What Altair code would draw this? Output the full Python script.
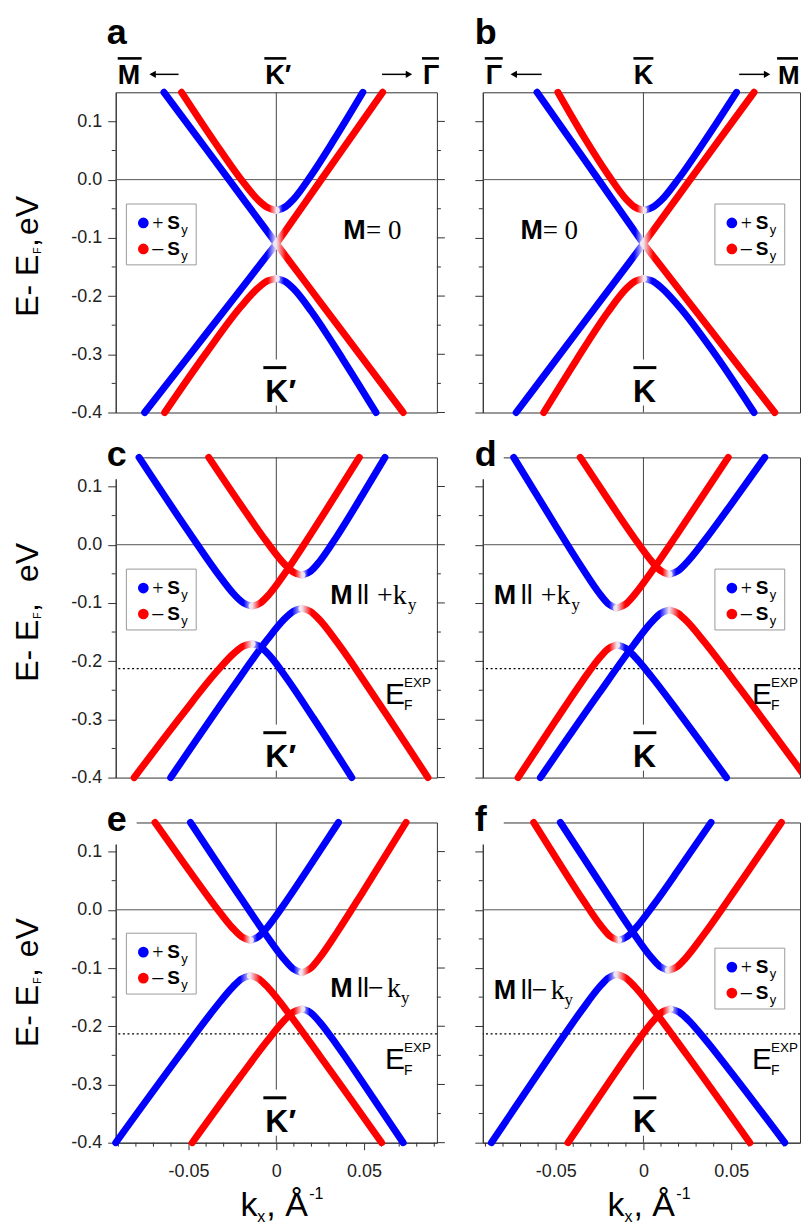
import altair as alt
import pandas as pd

SANS = "Liberation Sans"
SERIF = "Liberation Serif"
BLUE = "#0000ff"
RED = "#ff0000"
FADE = "#efe6f0"

# ---------------- axes / reference values ----------------
X_DOMAIN_LEFT = [-0.0915, 0.0915]
X_DOMAIN_RIGHT = [-0.0915, 0.08918]   # right column is cut by the picture edge
Y_DOMAIN = [-0.40, 0.15]
Y_MAJOR = [-0.4, -0.3, -0.2, -0.1, 0.0, 0.1]
Y_MINOR = [-0.35, -0.25, -0.15, -0.05, 0.05]
X_MAJOR = [-0.05, 0.0, 0.05]
X_MINOR = [-0.09, -0.08, -0.07, -0.06, -0.04, -0.03, -0.02, -0.01,
           0.01, 0.02, 0.03, 0.04, 0.06, 0.07, 0.08, 0.09]
EF_EXP = [-0.213]
KLINE_K = [0.0, 0.0]
KLINE_E1 = [0.15, -0.388]
KLINE_E2 = [-0.309, -0.40]

# ---------------- band arms: (spin, k from apex outwards, E) ----------------
ARMS_A = [
    ("blue", [0.0, -0.0075, -0.027, -0.045, -0.064], [-0.110, -0.0795, 0.000, 0.073, 0.150]),
    ("red", [0.0, 0.007, 0.0256, 0.043, 0.0606], [-0.110, -0.080, 0.000, 0.0745, 0.150]),
    ("red", [0.0, -0.005, -0.010, -0.020, -0.035, -0.054], [-0.053, -0.048, -0.036, 0.000, 0.064, 0.150]),
    ("blue", [0.0, 0.005, 0.010, 0.020, 0.033, 0.0493], [-0.053, -0.047, -0.033, 0.008, 0.069, 0.150]),
    ("blue", [0.0, -0.008, -0.025, -0.050, -0.075], [-0.110, -0.141, -0.207, -0.3035, -0.400]),
    ("red", [0.0, 0.008, 0.025, 0.050, 0.0723], [-0.110, -0.142, -0.2103, -0.3105, -0.400]),
    ("red", [0.0, -0.005, -0.010, -0.020, -0.040, -0.0636], [-0.170, -0.174, -0.185, -0.2175, -0.298, -0.400]),
    ("blue", [0.0, 0.005, 0.010, 0.020, 0.038, 0.0568], [-0.170, -0.175, -0.188, -0.2265, -0.309, -0.400]),
]
ARMS_B = [
    ("blue", [0.0, -0.007, -0.0256, -0.043, -0.0606], [-0.110, -0.080, 0.000, 0.0745, 0.150]),
    ("red", [0.0, 0.0073, 0.0266, 0.045, 0.063], [-0.110, -0.080, 0.000, 0.076, 0.150]),
    ("red", [0.0, -0.005, -0.010, -0.020, -0.033, -0.0487], [-0.053, -0.047, -0.033, 0.008, 0.069, 0.150]),
    ("blue", [0.0, 0.005, 0.010, 0.020, 0.035, 0.053], [-0.053, -0.048, -0.036, 0.0015, 0.067, 0.150]),
    ("blue", [0.0, -0.008, -0.025, -0.050, -0.0725], [-0.110, -0.142, -0.210, -0.310, -0.400]),
    ("red", [0.0, 0.008, 0.025, 0.050, 0.0748], [-0.110, -0.141, -0.207, -0.304, -0.400]),
    ("red", [0.0, -0.005, -0.010, -0.020, -0.038, -0.0568], [-0.170, -0.175, -0.188, -0.2265, -0.309, -0.400]),
    ("blue", [0.0, 0.005, 0.010, 0.020, 0.040, 0.063], [-0.170, -0.174, -0.185, -0.217, -0.2965, -0.400]),
]
ARMS_C = [
    ("blue", [-0.0138, -0.0188, -0.0238, -0.0338, -0.0488, -0.0782], [-0.1055, -0.0999, -0.0861, -0.0478, 0.0171, 0.150]),
    ("red", [-0.0138, -0.0088, -0.0038, 0.0062, 0.0212, 0.0473], [-0.1055, -0.0993, -0.0842, -0.0433, 0.0256, 0.150]),
    ("red", [0.0146, 0.0096, 0.0046, -0.0054, -0.0204, -0.0385], [-0.0523, -0.0468, -0.0331, 0.0048, 0.0692, 0.150]),
    ("blue", [0.0146, 0.0196, 0.0246, 0.0346, 0.0496, 0.0619], [-0.0523, -0.0455, -0.029, 0.0149, 0.0881, 0.150]),
    ("red", [-0.0138, -0.0188, -0.0238, -0.0338, -0.0538, -0.081], [-0.170, -0.1743, -0.1855, -0.2174, -0.2926, -0.400]),
    ("blue", [-0.0138, -0.0088, -0.0038, 0.0062, 0.0212, 0.043], [-0.170, -0.1759, -0.1906, -0.2306, -0.2981, -0.400]),
    ("blue", [0.0146, 0.0096, 0.0046, -0.0054, -0.0254, -0.0602], [-0.1094, -0.1146, -0.1277, -0.164, -0.2478, -0.400]),
    ("red", [0.0146, 0.0196, 0.0246, 0.0346, 0.0546, 0.0864], [-0.1094, -0.115, -0.1289, -0.1674, -0.2551, -0.400]),
]
ARMS_D = [
    ("blue", [-0.0152, -0.0202, -0.0252, -0.0352, -0.0502, -0.0739], [-0.109, -0.1011, -0.0832, -0.0386, 0.0335, 0.150]),
    ("red", [-0.0152, -0.0102, -0.0052, 0.0048, 0.0198, 0.0483], [-0.109, -0.1021, -0.0862, -0.0456, 0.0207, 0.150]),
    ("red", [0.0146, 0.0096, 0.0046, -0.0054, -0.0204, -0.036], [-0.051, -0.0441, -0.0282, 0.0125, 0.0789, 0.150]),
    ("blue", [0.0146, 0.0196, 0.0246, 0.0346, 0.0496, 0.0691], [-0.051, -0.045, -0.0307, 0.0065, 0.0679, 0.150]),
    ("red", [-0.0152, -0.0202, -0.0252, -0.0352, -0.0502, -0.0714], [-0.172, -0.179, -0.1951, -0.2361, -0.3031, -0.400]),
    ("blue", [-0.0152, -0.0102, -0.0052, 0.0048, 0.0198, 0.0473], [-0.172, -0.1777, -0.1915, -0.2275, -0.2871, -0.400]),
    ("blue", [0.0146, 0.0096, 0.0046, -0.0054, -0.0254, -0.0587], [-0.112, -0.1183, -0.1331, -0.1714, -0.2557, -0.400]),
    ("red", [0.0146, 0.0196, 0.0246, 0.0346, 0.0546, 0.0925], [-0.112, -0.1176, -0.1311, -0.1666, -0.2456, -0.400]),
]
ARMS_E = [
    ("red", [-0.0148, -0.0198, -0.0248, -0.0348, -0.0498, -0.0691], [-0.0523, -0.0462, -0.0317, 0.006, 0.068, 0.150]),
    ("blue", [-0.0148, -0.0098, -0.0048, 0.0052, 0.0202, 0.0354], [-0.0523, -0.0452, -0.0289, 0.0126, 0.0801, 0.150]),
    ("blue", [0.0146, 0.0096, 0.0046, -0.0054, -0.0204, -0.0489], [-0.108, -0.1012, -0.0854, -0.0449, 0.0211, 0.150]),
    ("red", [0.0146, 0.0196, 0.0246, 0.0346, 0.0496, 0.0739], [-0.108, -0.1003, -0.0827, -0.0388, 0.0322, 0.150]),
    ("blue", [-0.0148, -0.0198, -0.0248, -0.0348, -0.0548, -0.0915], [-0.113, -0.1187, -0.1325, -0.1685, -0.2486, -0.400]),
    ("red", [-0.0148, -0.0098, -0.0048, 0.0052, 0.0252, 0.060], [-0.113, -0.119, -0.1333, -0.1705, -0.2527, -0.400]),
    ("red", [0.0146, 0.0096, 0.0046, -0.0054, -0.0204, -0.0479], [-0.170, -0.1758, -0.1897, -0.2261, -0.2862, -0.400]),
    ("blue", [0.0146, 0.0196, 0.0246, 0.0346, 0.0496, 0.0723], [-0.170, -0.1768, -0.1924, -0.2326, -0.2982, -0.400]),
]
ARMS_F = [
    ("red", [-0.0142, -0.0192, -0.0242, -0.0342, -0.0492, -0.0625], [-0.0523, -0.0447, -0.0274, 0.016, 0.0863, 0.150]),
    ("blue", [-0.0142, -0.0092, -0.0042, 0.0058, 0.0208, 0.0385], [-0.0523, -0.0458, -0.0307, 0.0084, 0.0725, 0.150]),
    ("blue", [0.0142, 0.0092, 0.0042, -0.0058, -0.0208, -0.0473], [-0.104, -0.0969, -0.0807, -0.0394, 0.028, 0.150]),
    ("red", [0.0142, 0.0192, 0.0242, 0.0342, 0.0492, 0.0786], [-0.104, -0.0975, -0.0824, -0.0433, 0.0208, 0.150]),
    ("blue", [-0.0152, -0.0202, -0.0252, -0.0352, -0.0552, -0.0866], [-0.111, -0.1176, -0.1331, -0.1728, -0.2598, -0.400]),
    ("red", [-0.0152, -0.0102, -0.0052, 0.0048, 0.0248, 0.0606], [-0.111, -0.117, -0.1311, -0.1679, -0.2495, -0.400]),
    ("red", [0.0152, 0.0102, 0.0052, -0.0048, -0.0198, -0.043], [-0.170, -0.1766, -0.1921, -0.2318, -0.2968, -0.400]),
    ("blue", [0.0152, 0.0202, 0.0252, 0.0352, 0.0502, 0.0805], [-0.170, -0.1754, -0.1883, -0.2227, -0.2801, -0.400]),
]

PANELS = [("a", ARMS_A), ("b", ARMS_B), ("c", ARMS_C),
          ("d", ARMS_D), ("e", ARMS_E), ("f", ARMS_F)]

# ---------------- layout ----------------
WIDTHS = [322, 318]
H = 321
YS = alt.Scale(domain=Y_DOMAIN, nice=False, zero=False)
ONE = pd.DataFrame({"z": [0]})
FRAME = "#333333"


def txt(x, y, s, size, weight="normal", font=SANS, align="left", angle=0, color="black"):
    return alt.Chart(ONE).mark_text(
        text=s, font=font, fontSize=size, fontWeight=weight, align=align,
        baseline="alphabetic", angle=angle, color=color
    ).encode(x=alt.value(x), y=alt.value(y))


def hseg(x1, x2, y, width=1.0, color="black"):
    return alt.Chart(ONE).mark_rule(color=color, strokeWidth=width).encode(
        x=alt.value(x1), x2=alt.value(x2), y=alt.value(y))


def arrowhead(x, y, direction):
    return alt.Chart(ONE).mark_point(
        shape="triangle-" + direction, filled=True, size=55, color="black", opacity=1
    ).encode(x=alt.value(x), y=alt.value(y))


def box(x1, x2, y1, y2, fill="white", stroke=None, opacity=1):
    kw = dict(fill=fill, opacity=opacity)
    if stroke:
        kw.update(stroke=stroke, strokeWidth=1)
    return alt.Chart(ONE).mark_rect(**kw).encode(
        x=alt.value(x1), x2=alt.value(x2), y=alt.value(y1), y2=alt.value(y2))


def gradient(spin, side):
    c = BLUE if spin == "blue" else RED
    if side == "R":
        stops = [(FADE, 0.0), (c, 0.075), (c, 1.0)]
    else:
        stops = [(c, 0.0), (c, 0.925), (FADE, 1.0)]
    return alt.LinearGradient(
        gradient="linear", x1=0, x2=1, y1=0, y2=0,
        stops=[alt.GradientStop(color=col, offset=o) for col, o in stops])


def arms_frame(arms, kmax):
    rows = []
    for i, (spin, ks, es) in enumerate(arms):
        side = "R" if ks[-1] > ks[0] else "L"
        edge = max(ks) > kmax
        for k, e in zip(ks, es):
            rows.append({"arm": i, "spin": spin, "side": side, "edge": edge, "k": k, "E": e})
    return pd.DataFrame(rows)


def legend(bx, by):
    out = [box(bx, bx + 70, by, by + 61, stroke="#9a9a9a")]
    out.append(alt.Chart(ONE).mark_circle(size=115, color=BLUE, opacity=1).encode(
        x=alt.value(bx + 17), y=alt.value(by + 19)))
    out.append(alt.Chart(ONE).mark_circle(size=115, color=RED, opacity=1).encode(
        x=alt.value(bx + 17), y=alt.value(by + 45)))
    out += [txt(bx + 26, by + 26, "+", 20, font=SERIF),
            txt(bx + 41, by + 25, "S", 19, "bold"),
            txt(bx + 55, by + 30, "y", 13),
            txt(bx + 26, by + 51, "–", 20),
            txt(bx + 41, by + 51, "S", 19, "bold"),
            txt(bx + 55, by + 56, "y", 13)]
    return out


LEGEND_POS = {"a": (10.7, 112), "b": (232.7, 112), "c": (10.7, 112),
              "d": (232.7, 112), "e": (10.7, 111), "f": (232.7, 126)}
EV_POS = {0: 143, 1: 125, 2: 135}


def panel_annotations(name, row, col):
    L = []
    lx = -9 if col == 0 else -8
    ly = -48 if row == 0 else 9
    L.append(txt(lx, ly, name, 36, "bold"))
    if name == "a":
        L += [txt(2, -8, "M", 27, "bold"), hseg(2, 26, -34, 2.6),
              hseg(38, 63, -18, 1.5), arrowhead(37, -18, "left"),
              txt(150, -8, "K′", 27, "bold"), hseg(149, 171, -34, 2.6),
              hseg(267, 293, -18, 1.5), arrowhead(294, -18, "right"),
              txt(308, -8, "Γ", 27, "bold"), hseg(307, 324, -34, 2.6)]
    if name == "b":
        L += [txt(3, -8, "Γ", 27, "bold"), hseg(2, 20, -34, 2.6),
              hseg(32, 59, -18, 1.5), arrowhead(31, -18, "left"),
              txt(161, -8, "K", 27, "bold", align="center"), hseg(151, 171, -34, 2.6),
              hseg(257, 284, -18, 1.5), arrowhead(285, -18, "right"),
              txt(296, -8, "M", 26, "bold"), hseg(295, 316, -34, 2.6)]
    if col == 0:
        L += [txt(150, 310, "K′", 32, "bold"), hseg(148, 171, 276, 3)]
    else:
        L += [txt(162, 310, "K", 32, "bold", align="center"), hseg(151, 174, 276, 3)]
    if name == "a":
        L += [txt(228, 147, "M", 27, "bold"), txt(251, 147, "= 0", 27, font=SERIF)]
    if name == "b":
        L += [txt(37.7, 147, "M", 27, "bold"), txt(60, 147, "= 0", 27, font=SERIF)]
    if name in ("c", "d"):
        mx = 215 if name == "c" else 11
        L += [txt(mx, 147, "M", 27, "bold"), txt(mx + 27, 147, "ll", 27),
              txt(mx + 47, 147, "+k", 28, font=SERIF), txt(mx + 78, 153, "y", 17, font=SERIF)]
    if name in ("e", "f"):
        mx, my = (215, 175) if name == "e" else (11, 177)
        L += [txt(mx, my, "M", 27, "bold"), txt(mx + 27, my, "ll", 27),
              txt(mx + 38, my, "−", 28, font=SERIF), txt(mx + 57, my, "k", 28, font=SERIF),
              txt(mx + 71, my + 6, "y", 17, font=SERIF)]
    if row > 0:
        L += [txt(270, 247, "E", 30), txt(289, 253, "F", 14), txt(289, 230, "EXP", 13.5)]
    if col == 0:
        L += [txt(-78, 225, "E- E", 32, angle=270),
              txt(-75, 162, "F", 11, angle=270),
              txt(-78, 155, ",", 32, angle=270),
              txt(-78, EV_POS[row], "eV", 32, angle=270)]
    if row == 2:
        L += [txt(125, 395, "k", 34), txt(142, 401, "x", 16),
              txt(151, 395, ", Å", 34), txt(194, 377, "-1", 16)]
    return L


def make_panel(name, arms, row, col):
    W = WIDTHS[col]
    xdom = X_DOMAIN_LEFT if col == 0 else X_DOMAIN_RIGHT
    XS = alt.Scale(domain=xdom, nice=False, zero=False)
    df = arms_frame(arms, xdom[1])

    yaxis = alt.Axis(values=Y_MAJOR, tickSize=8, labels=(col == 0),
                     labelExpr="replace(format(datum.value, '.1f'), '−', '-')",
                     labelFont=SANS, labelFontSize=18, labelColor="#222222",
                     labelPadding=6, domainColor=FRAME, tickColor=FRAME,
                     title=None, grid=False, labelOverlap=False, labelFlush=False)
    if row == 2:
        xaxis = alt.Axis(values=X_MAJOR, tickSize=7,
                         labelExpr="datum.value == 0 ? '0' : replace(format(datum.value, '.2f'), '−', '-')",
                         labelFont=SANS, labelFontSize=18, labelColor="#222222",
                         labelPadding=13, domainColor=FRAME, tickColor=FRAME,
                         title=None, grid=False, labelOverlap=False, labelFlush=False)
    else:
        xaxis = None

    def X(field="k:Q"):
        return alt.X(field, scale=XS, axis=xaxis)

    def Y(field="E:Q"):
        return alt.Y(field, scale=YS, axis=yaxis)

    layers = []
    if name == "a":
        # invisible anchor fixing the page origin 115 px left / 90 px above panel a
        layers.append(box(-115, 0, -90, 0, opacity=0))

    layers.append(alt.Chart(df[df.k <= xdom[1]]).mark_point(opacity=0, size=1)
                  .encode(x=X(), y=Y()))

    layers.append(alt.Chart(pd.DataFrame({"E": [0.0]})).mark_rule(
        color="#555555", strokeWidth=1).encode(y=Y()))
    layers.append(alt.Chart(pd.DataFrame({"k": KLINE_K, "E": KLINE_E1, "E2": KLINE_E2}))
                  .mark_rule(color="#444444", strokeWidth=1)
                  .encode(x=X(), y=Y(), y2="E2:Q"))
    if row > 0:
        layers.append(alt.Chart(pd.DataFrame({"E": EF_EXP})).mark_rule(
            color="black", strokeWidth=1.3, strokeDash=[2, 2.6]).encode(y=Y()))

    minor = pd.DataFrame({"E": Y_MINOR})
    major = pd.DataFrame({"E": Y_MAJOR})
    layers.append(alt.Chart(minor).mark_rule(color=FRAME).encode(
        y=Y(), x=alt.value(0), x2=alt.value(-4)))
    if col == 0:
        layers.append(alt.Chart(minor).mark_rule(color=FRAME).encode(
            y=Y(), x=alt.value(W), x2=alt.value(W + 4)))
        layers.append(alt.Chart(major).mark_rule(color=FRAME).encode(
            y=Y(), x=alt.value(W), x2=alt.value(W + 8)))
    if row == 2:
        xm = [v for v in X_MINOR if xdom[0] <= v <= xdom[1]]
        layers.append(alt.Chart(pd.DataFrame({"k": xm})).mark_rule(color=FRAME).encode(
            x=X(), y=alt.value(H), y2=alt.value(H + 4)))

    if row > 0:
        layers.append(box(-30, 21, -25, 22))

    for spin in ("blue", "red"):
        for side in ("L", "R"):
            for edge in (False, True):
                sub = df[(df.spin == spin) & (df.side == side) & (df.edge == edge)]
                if sub.empty:
                    continue
                layers.append(alt.Chart(sub).mark_line(
                    stroke=gradient(spin, side), strokeWidth=7, strokeJoin="round",
                    strokeCap="butt" if edge else "round", clip=edge,
                    interpolate="monotone"
                ).encode(x=X(), y=Y(), detail="arm:N"))

    bx, by = LEGEND_POS[name]
    layers += legend(bx, by)
    layers += panel_annotations(name, row, col)

    return alt.layer(*layers).properties(width=W, height=H)


charts = []
for idx, (name, arms) in enumerate(PANELS):
    row, col = divmod(idx, 2)
    charts.append(make_panel(name, arms, row, col))

chart = alt.concat(
    *charts, columns=2, spacing={"row": 45, "column": 46}, bounds="flush"
).properties(
    padding=0, background="white"
).configure_view(stroke=FRAME, strokeWidth=1)

chart.save("out.html", embed_options={"renderer": "svg", "actions": False})
